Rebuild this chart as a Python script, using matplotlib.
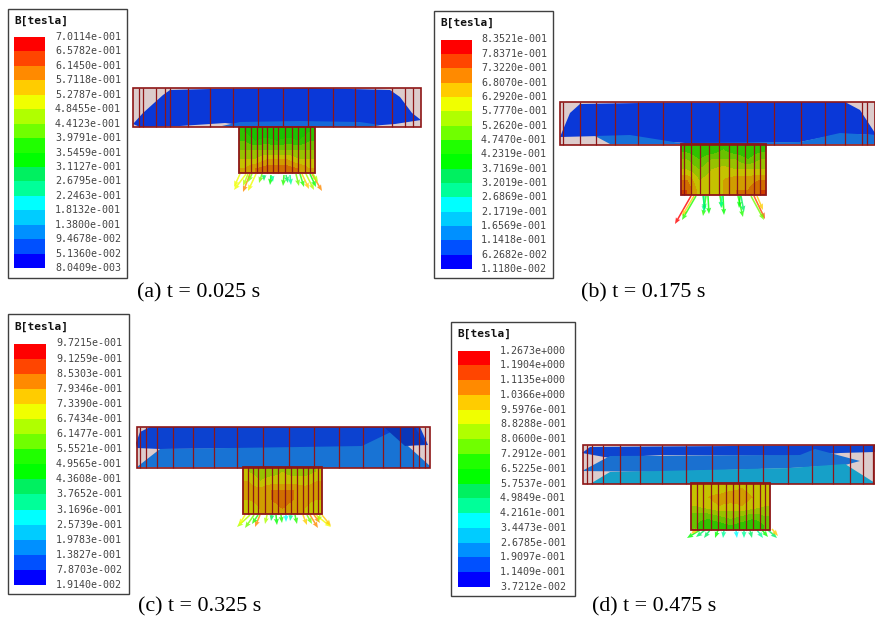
import numpy as np
import matplotlib
matplotlib.use("Agg")
import matplotlib.pyplot as plt
from matplotlib.colors import ListedColormap, BoundaryNorm
from matplotlib.patches import Rectangle, Polygon

band_colors = ['#0000ff', '#0050ff', '#0090ff', '#00ccff', '#00ffff', '#00ff99', '#00f060', '#00ff00',
               '#20ff00', '#70ff00', '#b0ff00', '#f0ff00', '#ffcc00', '#ff8a00', '#ff4500', '#ff0000']

labels_a = ['7.0114e-001', '6.5782e-001', '6.1450e-001', '5.7118e-001', '5.2787e-001', '4.8455e-001',
            '4.4123e-001', '3.9791e-001', '3.5459e-001', '3.1127e-001', '2.6795e-001', '2.2463e-001',
            '1.8132e-001', '1.3800e-001', '9.4678e-002', '5.1360e-002', '8.0409e-003']
labels_b = ['8.3521e-001', '7.8371e-001', '7.3220e-001', '6.8070e-001', '6.2920e-001', '5.7770e-001',
            '5.2620e-001', '4.7470e-001', '4.2319e-001', '3.7169e-001', '3.2019e-001', '2.6869e-001',
            '2.1719e-001', '1.6569e-001', '1.1418e-001', '6.2682e-002', '1.1180e-002']
labels_c = ['9.7215e-001', '9.1259e-001', '8.5303e-001', '7.9346e-001', '7.3390e-001', '6.7434e-001',
            '6.1477e-001', '5.5521e-001', '4.9565e-001', '4.3608e-001', '3.7652e-001', '3.1696e-001',
            '2.5739e-001', '1.9783e-001', '1.3827e-001', '7.8703e-002', '1.9140e-002']
labels_d = ['1.2673e+000', '1.1904e+000', '1.1135e+000', '1.0366e+000', '9.5976e-001', '8.8288e-001',
            '8.0600e-001', '7.2912e-001', '6.5225e-001', '5.7537e-001', '4.9849e-001', '4.2161e-001',
            '3.4473e-001', '2.6785e-001', '1.9097e-001', '1.1409e-001', '3.7212e-002']

captions = ['(a) t = 0.025 s', '(b) t = 0.175 s', '(c) t = 0.325 s', '(d) t = 0.475 s']

# field levels in the pole (rows top to bottom), in legend band numbers
stem_a = [[8, 7, 7, 7, 7, 7, 8], [9, 8, 8.5, 8, 8.5, 8, 9], [10, 10, 10, 10, 10, 10, 10],
          [11, 11, 12, 12, 12, 11, 11], [12, 13, 13.5, 13.5, 13.5, 13, 12]]
stem_b = [[8.5, 8, 8, 9, 8, 8, 8.5], [10, 9, 10, 10, 10, 9, 10], [11, 10, 11, 11.5, 11, 11, 11],
          [13, 11, 11.5, 12, 12.5, 12.5, 13], [14, 11.5, 11, 12, 13, 13, 14]]
stem_c = [[11, 10.5, 10.5, 11, 10.5, 10.5, 11], [12, 11, 11.5, 11.5, 11.5, 11.5, 12],
          [12.5, 12.5, 13, 13, 13, 12.5, 12.5], [12, 12.5, 13, 13.5, 13, 12.5, 12],
          [11, 12, 12.5, 13, 12.5, 12, 11]]
stem_d = [[11, 11.5, 11, 11.5, 12, 11.5, 11.5], [11.5, 12, 12.5, 13, 12.5, 12, 11.5],
          [11, 11.5, 12, 11.5, 12, 11.5, 11], [9.5, 9.5, 10, 10.5, 10, 9.5, 10], [9, 8, 8.5, 9, 8.5, 8, 9]]

# winding lines
plate_lines_a = [139, 143, 156, 165, 170, 188, 210, 233, 258, 283, 308, 333, 355, 375, 392, 405, 413]
stem_lines_a = [245, 251, 257, 262, 267, 273, 278, 285, 292, 298, 305, 310]
plate_lines_b = [563, 580, 596, 615, 638, 663, 691, 719, 747, 774, 801, 825, 845, 862, 867]
stem_lines_b = [684, 691, 700, 709, 719, 729, 737, 745, 754, 760]
plate_lines_c = [140, 146, 157, 173, 193, 214, 237, 263, 289, 314, 339, 363, 383, 400, 413, 419, 425]
stem_lines_c = [248, 253, 258, 265, 272, 278, 285, 291, 297, 303, 308, 313, 318]
plate_lines_d = [587, 592, 603, 620, 640, 662, 686, 712, 738, 763, 788, 812, 833, 850, 863, 873]
stem_lines_d = [697, 703, 711, 718, 726, 733, 739, 746, 753, 760, 765]

# flux arrows: x, y, dx, dy, band
arrows_a = [(240, 174, -6, 13, 11), (246, 174, -12, 16, 11), (250, 174, -7, 18, 13), (256, 174, -8, 17, 11),
            (262, 174, -3, 9, 9), (264, 175, 0, 6, 6), (271, 175, -1, 10, 7), (272, 176, 1, 6, 5),
            (284, 175, -1, 11, 8), (286, 175, 2, 8, 6), (290, 175, 1, 10, 5), (296, 174, 3, 12, 9),
            (300, 174, 4, 13, 8), (302, 174, 7, 15, 12), (306, 174, 8, 16, 10), (310, 174, 6, 13, 7),
            (312, 174, 10, 17, 13), (313, 174, 5, 8, 10), (248, 174, -5, 12, 10), (252, 174, -4, 8, 9)]
arrows_b = [(691, 196, -16, 28, 15), (694, 196, -12, 20, 12), (696, 196, -14, 24, 8), (706, 196, -3, 20, 8),
            (704, 196, 0, 16, 5), (708, 196, 1, 18, 7), (723, 196, 1, 19, 7), (720, 196, 2, 12, 8),
            (738, 196, 5, 21, 8), (741, 196, 3, 16, 6), (754, 196, 11, 23, 14), (757, 196, 6, 14, 12),
            (751, 196, 13, 24, 9), (703, 196, 2, 14, 6), (722, 196, -1, 12, 5), (740, 196, -1, 12, 7)]
arrows_c = [(250, 515, -13, 12, 10), (254, 515, -9, 13, 9), (260, 515, -5, 12, 13), (267, 515, -2, 9, 10),
            (276, 515, 1, 10, 7), (286, 515, 0, 7, 4), (295, 515, 2, 9, 8), (303, 515, 4, 10, 12),
            (310, 515, 8, 13, 13), (316, 515, 15, 12, 11), (258, 515, -6, 9, 8), (314, 515, 6, 8, 13),
            (322, 515, 9, 11, 12), (245, 515, -6, 10, 11), (272, 515, -1, 6, 6), (281, 515, 1, 8, 8),
            (291, 515, -1, 6, 5), (307, 515, 5, 9, 9), (320, 515, -2, 7, 10)]
arrows_d = [(700, 530, -13, 8, 7), (697, 529, -6, 5, 12), (710, 530, -6, 8, 6), (718, 530, -3, 8, 7),
            (724, 530, -1, 8, 5), (736, 530, 1, 8, 4), (744, 530, 0, 8, 5), (750, 530, 2, 8, 6),
            (762, 530, 6, 7, 7), (768, 530, 9, 8, 6), (772, 529, 6, 7, 12), (705, 530, -9, 7, 6),
            (757, 530, 6, 8, 5)]

# flux sheets in the yoke: colour, outline
sheets_a = [('#0a38d8', [(133, 124), (143, 113), (163, 95), (170, 90), (210, 89), (312, 88), (390, 90), (400, 97),
                         (412, 113), (421, 120), (395, 124), (370, 126), (250, 126), (225, 123), (180, 126), (140, 127)]),
            ('#1668d8', [(222, 126), (240, 122), (300, 121), (360, 122), (380, 125), (370, 127), (230, 127)])]
sheets_b = [('#0a38d8', [(560, 137), (570, 113), (580, 104), (640, 103), (845, 102), (860, 110), (875, 133), (875, 135),
                         (840, 134), (800, 142), (700, 144), (640, 140), (600, 136)]),
            ('#1670d8', [(595, 136), (630, 135), (680, 143), (800, 142), (840, 133), (875, 135), (875, 144), (835, 144),
                         (610, 144)])]
sheets_c = [('#0c42d0', [(136, 443), (140, 432), (150, 427), (420, 427), (428, 445), (400, 446), (360, 448), (300, 448),
                         (160, 449), (137, 448)]),
            ('#1873d4', [(137, 467), (160, 449), (300, 447), (362, 446), (395, 430), (408, 446), (430, 466), (430, 468)]),
            ('#0a36b8', [(385, 428), (415, 427), (425, 444), (405, 446)])]
sheets_d = [('#0d44d0', [(582, 453), (590, 447), (875, 445), (875, 452), (840, 453), (800, 456), (660, 455), (610, 458)]),
            ('#1a70d0', [(582, 471), (610, 456), (800, 455), (815, 449), (860, 461), (845, 465), (790, 468), (660, 472)]),
            ('#16a0c8', [(590, 484), (610, 472), (660, 471), (790, 468), (845, 464), (875, 483), (875, 484)])]

PANELS = [
    dict(labels=labels_a, box=(7.5, 8.5, 126.5, 278), bar=(14, 45, 37, 268), tx=55, ty=20.5, cap=(137, 293),
         plate=(133, 88, 421, 127), stem=(239, 127, 315, 173), field=stem_a, pl=plate_lines_a, sl=stem_lines_a,
         arrows=arrows_a, sheets=sheets_a),
    dict(labels=labels_b, box=(434, 11, 553, 278), bar=(441, 472, 39.5, 269), tx=481, ty=23, cap=(581, 293),
         plate=(560, 102, 875, 145), stem=(681, 144, 766, 195), field=stem_b, pl=plate_lines_b, sl=stem_lines_b,
         arrows=arrows_b, sheets=sheets_b),
    dict(labels=labels_c, box=(7.5, 313.5, 129, 594), bar=(14, 46, 343.5, 585), tx=56, ty=326.5, cap=(138, 607),
         plate=(137, 427, 430, 468), stem=(243, 467, 322, 514), field=stem_c, pl=plate_lines_c, sl=stem_lines_c,
         arrows=arrows_c, sheets=sheets_c),
    dict(labels=labels_d, box=(451, 321.5, 575, 596), bar=(458, 490, 350.5, 587), tx=500, ty=334, cap=(592, 607),
         plate=(583, 445, 875, 484), stem=(691, 483, 770, 530), field=stem_d, pl=plate_lines_d, sl=stem_lines_d,
         arrows=arrows_d, sheets=sheets_d),
]

WIRE = '#8e1616'
cmap = ListedColormap(band_colors)
norm = BoundaryNorm(np.arange(0, 17), 16)

fig = plt.figure(figsize=(8.75, 6.23), dpi=100, facecolor='white')
ax = fig.add_axes([0, 0, 1, 1])
ax.axis('off')

for n, p in enumerate(PANELS):
    # legend
    x0, y0, x1, y1 = p['box']
    ax.add_patch(Rectangle((x0, y0), x1 - x0, y1 - y0, fc='white', ec='#404040', lw=1.0, zorder=1))
    ax.text(x0 + 6.5, p['ty'], 'B[tesla]', family='DejaVu Sans Mono', weight='bold', fontsize=8,
            va='center', ha='left', color='#111111', zorder=3)
    bx0, bx1, by0, by1 = p['bar']
    ys = np.linspace(by0, by1, 17)
    for i in range(16):
        ax.add_patch(Rectangle((bx0, ys[i]), bx1 - bx0, ys[i + 1] - ys[i], fc=band_colors[15 - i], ec='none', zorder=2))
    for y, s in zip(ys, p['labels']):
        ax.text(p['tx'], y, s, family='DejaVu Sans Mono', fontsize=7.2, va='center', ha='left',
                color='#444444', zorder=3)
    ax.text(p['cap'][0], p['cap'][1], captions[n], family='Liberation Serif', fontsize=15.8,
            va='center', ha='left', color='black', zorder=3)

    # yoke
    px0, py0, px1, py1 = p['plate']
    ax.add_patch(Rectangle((px0, py0), px1 - px0, py1 - py0, fc='#dccccc', ec='none', zorder=2))
    for color, pts in p['sheets']:
        ax.add_patch(Polygon(pts, closed=True, fc=color, ec='none', zorder=3))
    ax.vlines(p['pl'], py0, py1, color=WIRE, lw=0.9, zorder=5)
    ax.add_patch(Rectangle((px0, py0), px1 - px0, py1 - py0, fc='none', ec=WIRE, lw=1.2, zorder=6))

    # pole: field bands seen through the dark windings
    sx0, sy0, sx1, sy1 = p['stem']
    ax.add_patch(Rectangle((sx0, sy0), sx1 - sx0, sy1 - sy0, fc='#5a2a00', ec='none', zorder=2.5))
    ax.imshow(np.array(p['field']), extent=(sx0, sx1, sy1, sy0), cmap=cmap, norm=norm, aspect='auto',
              interpolation='bilinear', interpolation_stage='data', alpha=0.72, zorder=3)
    ax.vlines(p['sl'], sy0, sy1, color=WIRE, lw=0.9, zorder=5)
    ax.add_patch(Rectangle((sx0, sy0), sx1 - sx0, sy1 - sy0, fc='none', ec=WIRE, lw=1.3, zorder=6))

    # flux arrows
    arr = np.array(p['arrows'], dtype=float)
    ax.quiver(arr[:, 0], arr[:, 1], arr[:, 2], arr[:, 3], color=[band_colors[int(b)] for b in arr[:, 4]],
              angles='xy', scale_units='xy', scale=1, width=0.0018, headwidth=3.2, headlength=4, headaxislength=3.5,
              alpha=0.8, zorder=4)

ax.set_xlim(0, 875)
ax.set_ylim(623, 0)
fig.savefig('out.png', dpi=100, facecolor='white')
